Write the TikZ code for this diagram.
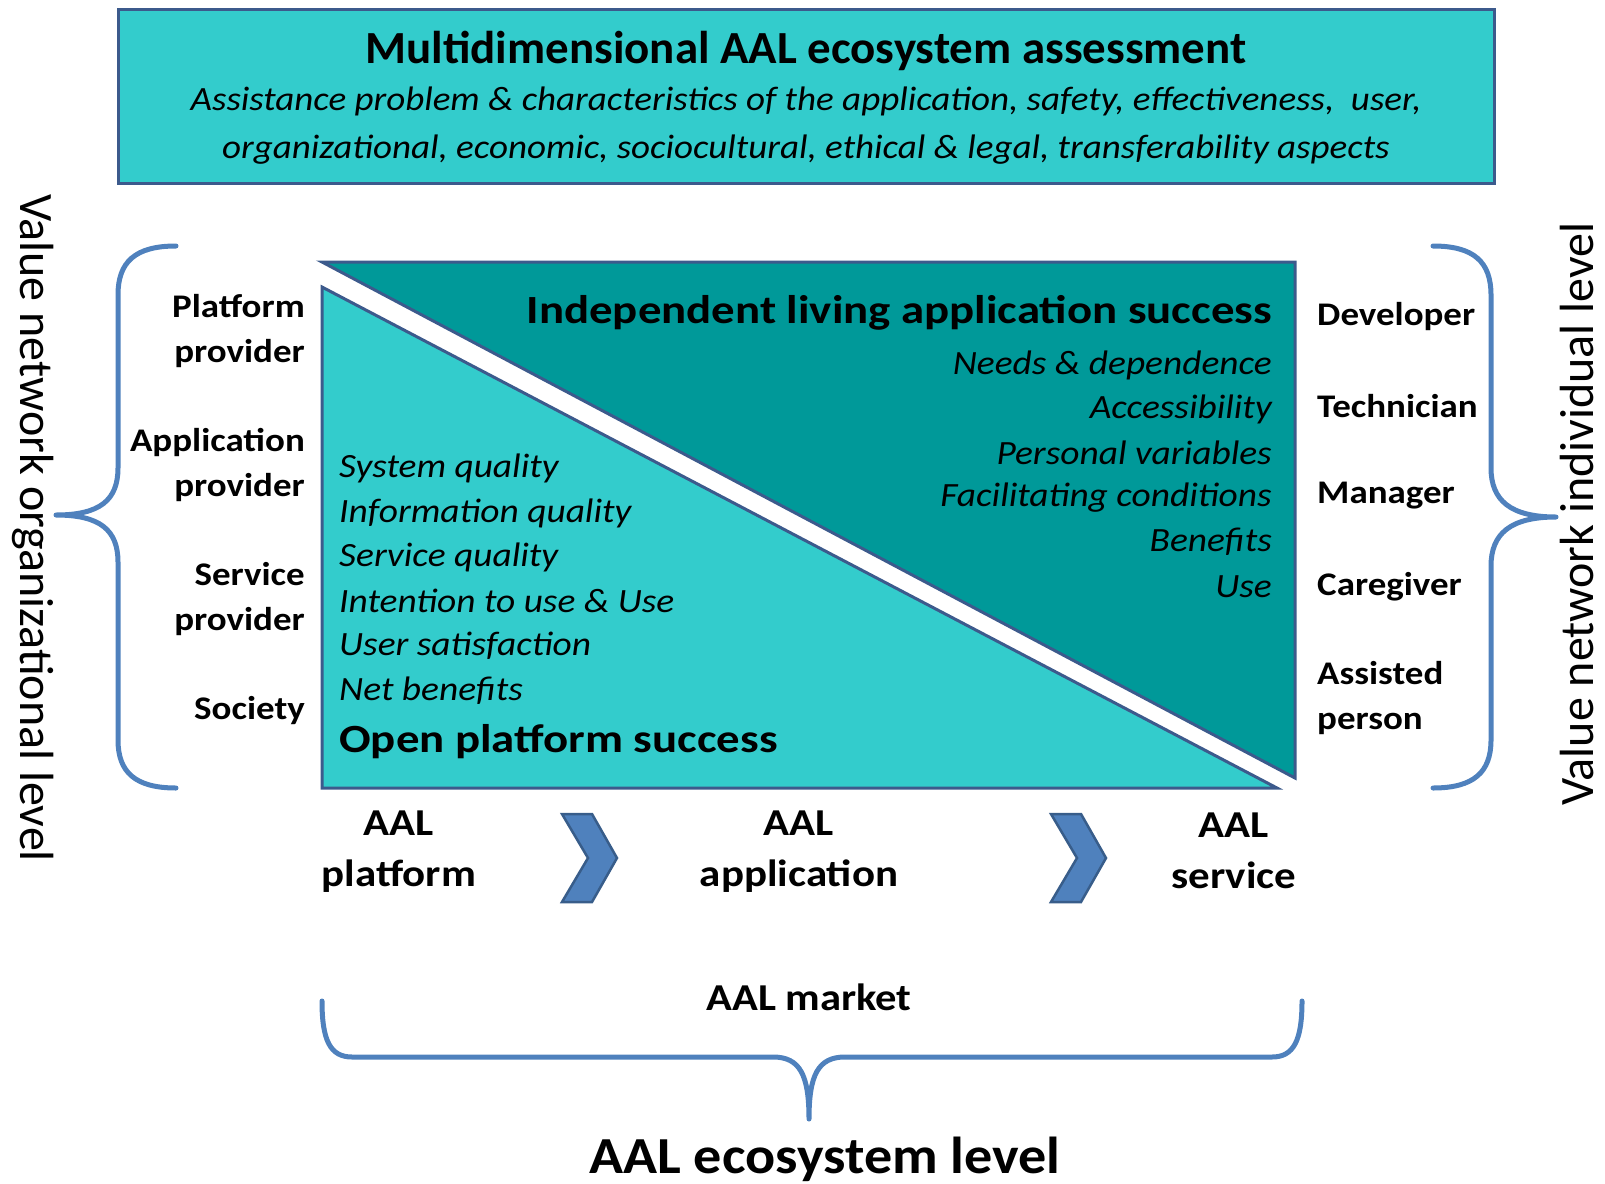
\documentclass[tikz,border=0pt]{standalone}
\usepackage{fontspec}
\setmainfont{Carlito}
\definecolor{tlight}{HTML}{33CCCC}
\definecolor{tdark}{HTML}{009999}
\definecolor{edge}{HTML}{3C5A8C}
\definecolor{brace}{HTML}{4F81BD}
\definecolor{chevb}{HTML}{385D8A}
\begin{document}
\begin{tikzpicture}[x=1pt,y=-1pt,
  lbl/.style={inner sep=0pt, xscale=1.12, font=\fontsize{33}{33}\selectfont\bfseries},
  itm/.style={inner sep=0pt, xscale=1.1, font=\fontsize{34}{34}\selectfont\itshape},
  head/.style={inner sep=0pt, xscale=1.17, font=\fontsize{40}{40}\selectfont\bfseries},
  stage/.style={inner sep=0pt, align=center, xscale=1.13, font=\fontsize{38}{38}\selectfont\bfseries},
  bracepath/.style={draw=brace, line width=5pt, line cap=round, line join=round},
  chev/.style={fill=brace, draw=chevb, line width=2.5pt, line join=miter}]
\useasboundingbox (0,0) rectangle (1605,1183);
% top box
\node[draw=edge, fill=tlight, line width=3pt, minimum width=1376pt, minimum height=174pt, inner sep=0pt] (assess) at (806,96) {};
\node[inner sep=0pt, xscale=1.02, font=\fontsize{46}{46}\selectfont\bfseries] (title) at (806,51) {Multidimensional AAL ecosystem assessment};
\node[itm, xscale=0.99] (sub1) at (806,101) {Assistance problem \& characteristics of the application, safety, effectiveness,\ \ user,};
\node[itm, xscale=0.99] (sub2) at (806,150) {organizational, economic, sociocultural, ethical \& legal, transferability aspects};
% triangles
\filldraw[fill=tdark, draw=edge, line width=3pt, line join=miter] (322,262) -- (1295,262) -- (1295,778) -- cycle;
\filldraw[fill=tlight, draw=edge, line width=3pt, line join=miter] (322,287) -- (322,788) -- (1277,788) -- cycle;
% dark triangle text
\node[head, anchor=east] (ils) at (1272,313) {Independent living application success};
\node[itm, anchor=east] (d1) at (1272,365) {Needs \& dependence};
\node[itm, anchor=east] (d2) at (1272,409) {Accessibility};
\node[itm, anchor=east] (d3) at (1272,453) {Personal variables};
\node[itm, anchor=east] (d4) at (1272,498) {Facilitating conditions};
\node[itm, anchor=east] (d5) at (1272,542) {Benefits};
\node[itm, anchor=east] (d6) at (1272,587) {Use};
% light triangle text
\node[itm, anchor=west] (l1) at (339,468) {System quality};
\node[itm, anchor=west] (l2) at (339,513) {Information quality};
\node[itm, anchor=west] (l3) at (339,557) {Service quality};
\node[itm, anchor=west] (l4) at (339,601) {Intention to use \& Use};
\node[itm, anchor=west] (l5) at (339,646) {User satisfaction};
\node[itm, anchor=west] (l6) at (339,691) {Net benefits};
\node[head, anchor=west] (ops) at (339,742) {Open platform success};
% left labels
\node[lbl, anchor=east, align=right] (pp) at (305,331) {Platform\\[12pt]provider};
\node[lbl, anchor=east, align=right] (ap) at (305,465) {Application\\[12pt]provider};
\node[lbl, anchor=east, align=right] (sp) at (305,599) {Service\\[12pt]provider};
\node[lbl, anchor=east] (so) at (305,711) {Society};
% right labels
\node[lbl, anchor=west] (dev) at (1317,317) {Developer};
\node[lbl, anchor=west] (tec) at (1317,406) {Technician};
\node[lbl, anchor=west] (man) at (1317,496) {Manager};
\node[lbl, anchor=west] (car) at (1317,587) {Caregiver};
\node[lbl, anchor=west, align=left] (asp) at (1317,698) {Assisted\\[12pt]person};
% braces
\draw[bracepath] (176,246) .. controls (135,246) and (118,262) .. (118,295) -- (118,468) .. controls (118,500) and (100,515) .. (56,515) .. controls (100,515) and (118,530) .. (118,562) -- (118,740) .. controls (118,772) and (135,788) .. (176,788);
\draw[bracepath] (1433,246) .. controls (1474,246) and (1491,262) .. (1491,295) -- (1491,468) .. controls (1491,500) and (1510,517) .. (1556,517) .. controls (1510,517) and (1491,534) .. (1491,566) -- (1491,740) .. controls (1491,772) and (1474,788) .. (1433,788);
\draw[bracepath] (322,1001) .. controls (322,1040) and (330,1057) .. (352,1057) -- (773,1057) .. controls (800,1057) and (809,1075) .. (809,1119) .. controls (809,1075) and (818,1057) .. (845,1057) -- (1272,1057) .. controls (1294,1057) and (1302,1040) .. (1302,1001);
% rotated labels
\node[inner sep=0pt, rotate=-90, font=\fontsize{48}{48}\selectfont] (orgl) at (33,528) {Value network organizational level};
\node[inner sep=0pt, rotate=90, font=\fontsize{48}{48}\selectfont] (indl) at (1577,514) {Value network individual level};
% bottom stages
\node[stage] (plat) at (399,852) {AAL\\[13pt]platform};
\node[stage] (app) at (799,852) {AAL\\[13pt]application};
\node[stage] (serv) at (1234,851) {AAL\\[13pt]service};
\filldraw[chev] (562,814) -- (592,814) -- (617,858) -- (592,902) -- (562,902) -- (588,858) -- cycle;
\filldraw[chev] (1051,814) -- (1081,814) -- (1106,858) -- (1081,902) -- (1051,902) -- (1077,858) -- cycle;
\node[inner sep=0pt, xscale=1.12, font=\fontsize{38}{38}\selectfont\bfseries] (mkt) at (809,997) {AAL market};
\node[inner sep=0pt, xscale=1.08, font=\fontsize{52}{52}\selectfont\bfseries] (eco) at (825,1159) {AAL ecosystem level};
\end{tikzpicture}
\end{document}
